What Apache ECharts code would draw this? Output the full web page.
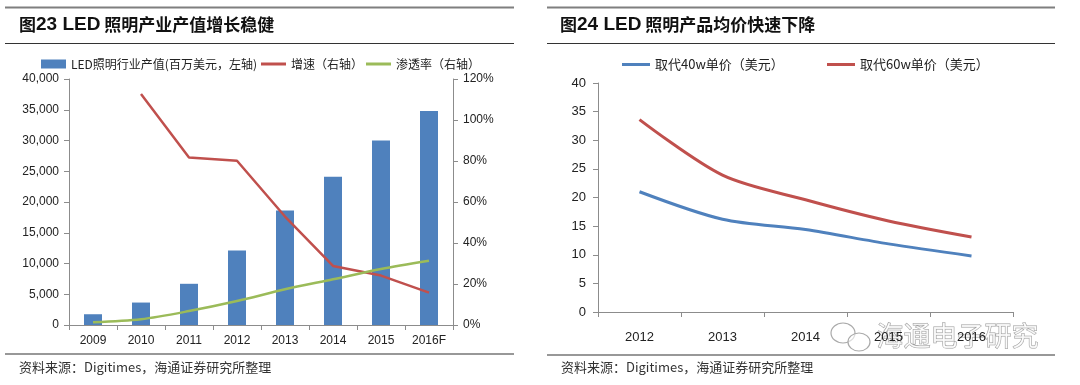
<!DOCTYPE html>
<html><head><meta charset="utf-8">
<script src="https://cdn.jsdelivr.net/npm/echarts@6/dist/echarts.min.js"></script>
<style>html,body{margin:0;padding:0;background:#fff}#c{width:1080px;height:385px}</style>
</head><body><div id="c"></div>
<script>
// Left chart data
const yearsL = ['2009','2010','2011','2012','2013','2014','2015','2016F'];
const outputL = [1750, 3650, 6700, 12100, 18600, 24100, 30000, 34800];
const growthL = [null, 112.7, 81.7, 80.1, 52.9, 28.8, 24.1, 15.8];
const penetrationL = [1.3, 2.8, 6.8, 11.7, 17.4, 22.3, 27.3, 31.3];
const leftTicks = [0, 5000, 10000, 15000, 20000, 25000, 30000, 35000, 40000];
// Right chart data
const yearsR = ['2012','2013','2014','2015','2016'];
const price40 = [21.0, 16.2, 14.4, 11.9, 9.8];
const price60 = [33.6, 23.9, 19.6, 15.9, 13.1];

const nameBar = 'LED照明行业产值(百万美元，左轴)';
const nameGrowth = '增速（右轴）';
const namePen = '渗透率（右轴）';
const name40 = '取代40w单价（美元）';
const name60 = '取代60w单价（美元）';

const BLUE = '#4F81BD', RED = '#C0504D', GREEN = '#9BBB59';
const AX = '#8c8c8c';
const FONT = '"Liberation Sans", Arial, "Noto Sans CJK SC", sans-serif';
const CJK = '"Noto Sans CJK SC", sans-serif';

const chart = echarts.init(document.getElementById('c'));
const legTxt = {fontSize: 12, color: '#222', fontFamily: CJK};
const legTxtR = {fontSize: 13, color: '#222', fontFamily: CJK};

function hline(x1, x2, y, w, c) {
  return {type: 'line', silent: true, shape: {x1, y1: y, x2, y2: y}, style: {stroke: c, lineWidth: w}};
}
function title(x, num, rest) {
  return {type: 'text', left: x, top: 15, style: {
    text: '{a|图}{b|' + num + ' LED}{a| ' + rest + '}',
    rich: {
      a: {fontSize: 17, fontFamily: CJK, fill: '#111', fontWeight: 'bold'},
      b: {fontSize: 19, fontFamily: FONT, fontWeight: 'bold', fill: '#111'}
    }
  }};
}
function source(x, y) {
  return {type: 'text', left: x, top: y, style: {text: '资料来源：Digitimes，海通证券研究所整理', fontSize: 13, fontFamily: CJK, fill: '#333'}};
}

chart.setOption({
  animation: false,
  backgroundColor: '#fff',
  textStyle: {fontFamily: FONT},
  legend: [
    {data: [nameBar], left: 41, top: 58, itemWidth: 25, itemHeight: 9, icon: 'rect', itemGap: 0, textStyle: legTxt, padding: 0},
    {data: [nameGrowth], left: 261, top: 58, itemWidth: 25, itemHeight: 3, icon: 'rect', textStyle: legTxt, padding: 0},
    {data: [namePen], left: 366, top: 58, itemWidth: 25, itemHeight: 3, icon: 'rect', textStyle: legTxt, padding: 0},
    {data: [name40], left: 622, top: 58, itemWidth: 28, itemHeight: 3, icon: 'rect', textStyle: legTxtR, padding: 0},
    {data: [name60], left: 827, top: 58, itemWidth: 28, itemHeight: 3, icon: 'rect', textStyle: legTxtR, padding: 0}
  ],
  grid: [
    {left: 69, right: 627, top: 79, bottom: 60},
    {left: 598, right: 67, top: 83, bottom: 73}
  ],
  xAxis: [
    {type: 'category', gridIndex: 0, data: yearsL, boundaryGap: true,
     axisLine: {lineStyle: {color: AX}}, axisTick: {show: true, alignWithLabel: false, length: 5, lineStyle: {color: AX}},
     axisLabel: {fontSize: 12, color: '#222', margin: 10}},
    {type: 'category', gridIndex: 1, data: yearsR, boundaryGap: true,
     axisLine: {lineStyle: {color: AX}}, axisTick: {show: true, length: 5, lineStyle: {color: AX}},
     axisLabel: {fontSize: 13, color: '#222', margin: 19}}
  ],
  yAxis: [
    {type: 'value', gridIndex: 0, min: leftTicks[0], max: leftTicks[leftTicks.length - 1], interval: 5000,
     axisLine: {show: true, lineStyle: {color: AX}}, axisTick: {show: true, length: 5, lineStyle: {color: AX}},
     splitLine: {show: false},
     axisLabel: {fontSize: 12, color: '#222', margin: 10, formatter: v => v.toLocaleString('en-US')}},
    {type: 'value', gridIndex: 0, position: 'right', min: 0, max: 120, interval: 20,
     axisLine: {show: true, lineStyle: {color: AX}}, axisTick: {show: true, length: 5, lineStyle: {color: AX}},
     splitLine: {show: false},
     axisLabel: {fontSize: 12, color: '#222', margin: 10, formatter: '{value}%'}},
    {type: 'value', gridIndex: 1, min: 0, max: 40, interval: 5,
     axisLine: {show: true, lineStyle: {color: AX}}, axisTick: {show: true, length: 5, lineStyle: {color: AX}},
     splitLine: {show: false},
     axisLabel: {fontSize: 13, color: '#222', margin: 12}}
  ],
  series: [
    {name: nameBar, type: 'bar', xAxisIndex: 0, yAxisIndex: 0, data: outputL, barWidth: 18, itemStyle: {color: BLUE}},
    {name: nameGrowth, type: 'line', xAxisIndex: 0, yAxisIndex: 1, data: growthL, symbol: 'none', lineStyle: {color: RED, width: 2.5}, itemStyle: {color: RED}},
    {name: namePen, type: 'line', xAxisIndex: 0, yAxisIndex: 1, data: penetrationL, symbol: 'none', smooth: 0.3, lineStyle: {color: GREEN, width: 2.5}, itemStyle: {color: GREEN}},
    {name: name40, type: 'line', xAxisIndex: 1, yAxisIndex: 2, data: price40, symbol: 'none', smooth: 0.3, lineStyle: {color: BLUE, width: 3}, itemStyle: {color: BLUE}},
    {name: name60, type: 'line', xAxisIndex: 1, yAxisIndex: 2, data: price60, symbol: 'none', smooth: 0.3, lineStyle: {color: RED, width: 3}, itemStyle: {color: RED}}
  ],
  graphic: [
    hline(5, 514, 7.5, 2, '#7f7f7f'),
    hline(5, 514, 43.5, 1.2, '#333'),
    hline(5, 514, 354, 1.2, '#333'),
    hline(547, 1055, 7.5, 2, '#7f7f7f'),
    hline(547, 1055, 43.5, 1.2, '#333'),
    hline(547, 1055, 355, 1.2, '#333'),
    title(19, '23', '照明产业产值增长稳健'),
    title(560, '24', '照明产品均价快速下降'),
    source(19, 361),
    source(561, 361),
    {type: 'ellipse', silent: true, shape: {cx: 843, cy: 333, rx: 12, ry: 10}, style: {fill: 'rgba(255,255,255,0.6)', stroke: '#aaa', lineWidth: 1.2}},
    {type: 'ellipse', silent: true, shape: {cx: 859, cy: 342, rx: 11, ry: 9}, style: {fill: 'rgba(255,255,255,0.6)', stroke: '#aaa', lineWidth: 1.2}},
    {type: 'text', silent: true, left: 876, top: 322, style: {text: '海通电子研究', fontSize: 27, fontFamily: CJK, fill: 'rgba(255,255,255,0.75)', stroke: '#9a9a9a', lineWidth: 1}}
  ]
});
</script></body></html>
